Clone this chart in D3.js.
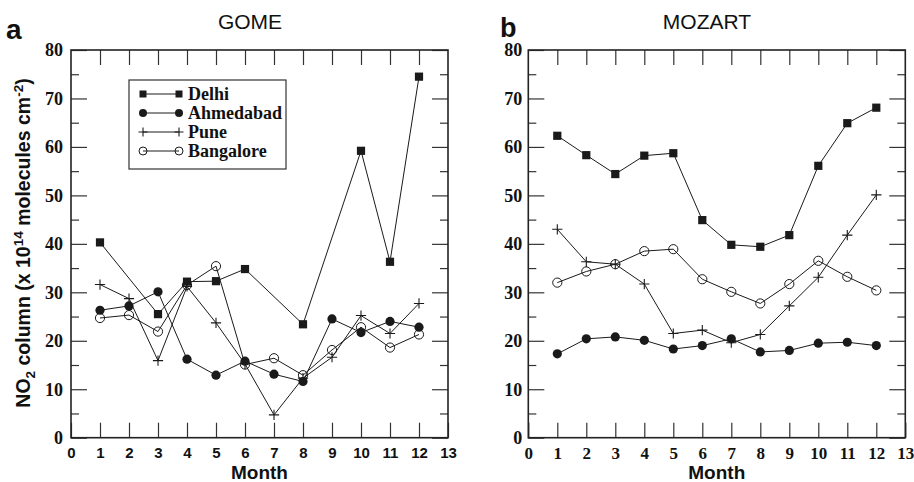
<!DOCTYPE html>
<html>
<head>
<meta charset="utf-8">
<script src="https://cdn.jsdelivr.net/npm/d3@7"></script>
<style>
  body { margin: 0; background: #fff; }
  svg { display: block; }
  .frame { fill: none; stroke: #222; stroke-width: 1.6; }
  .tick line { stroke: #333; stroke-width: 1.2; }
  .series { fill: none; stroke: #1a1a1a; stroke-width: 1; }
</style>
</head>
<body>
<script>

// months 1..12
var months = [1,2,3,4,5,6,7,8,9,10,11,12];
var cities = ["Delhi","Ahmedabad","Pune","Bangalore"];

// GOME values (null = no point that month)
var gomeDelhi     = [40.3, null, 25.5, 32.2, 32.3, 34.8, null, 23.4, null, 59.2, 36.3, 74.5];
var gomeAhmedabad = [26.3, 27.2, 30.1, 16.2, 12.9, 15.8, 13.1, 11.6, 24.5, 21.7, 24.0, 22.8];
var gomePune      = [31.6, 28.7, 15.9, 31.2, 23.7, 15.2, 4.7, 12.3, 16.6, 25.2, 21.5, 27.7];
var gomeBangalore = [24.7, 25.3, 21.9, 31.5, 35.4, 15.1, 16.4, 12.9, 18.1, 22.8, 18.6, 21.3];

// MOZART values
var mozDelhi     = [62.3, 58.3, 54.4, 58.2, 58.7, 44.9, 39.8, 39.4, 41.8, 56.1, 64.9, 68.1];
var mozAhmedabad = [17.3, 20.4, 20.8, 20.1, 18.3, 19.0, 20.4, 17.7, 18.0, 19.5, 19.7, 19.0];
var mozPune      = [43.0, 36.3, 35.8, 31.7, 21.5, 22.2, 19.6, 21.3, 27.2, 33.1, 41.8, 50.1];
var mozBangalore = [32.0, 34.3, 35.8, 38.5, 38.9, 32.7, 30.1, 27.7, 31.7, 36.5, 33.2, 30.4];

var xTicks = d3.range(0, 14);
var yMajor = [0,10,20,30,40,50,60,70,80];
var yMinor = [5,15,25,35,45,55,65,75];

var W = 914, H = 482;
var plotTop = 50, plotBottom = 437.7;
var SANS = "'Liberation Sans', Arial, Helvetica, sans-serif";
var SERIF = "'Liberation Serif', 'Times New Roman', Times, serif";

var svg = d3.select("body").append("svg")
    .attr("width", W)
    .attr("height", H);

var y = d3.scaleLinear().domain([0, 80]).range([plotBottom, plotTop]);

var markerFor = {
  Delhi: "square", Ahmedabad: "dot", Pune: "plus", Bangalore: "ring"
};

function drawMarker(g, kind, cx, cy, s) {
  if (kind === "square") {
    g.append("rect").attr("x", cx - s).attr("y", cy - s)
      .attr("width", 2*s).attr("height", 2*s).attr("fill", "#1a1a1a");
  } else if (kind === "dot") {
    g.append("circle").attr("cx", cx).attr("cy", cy).attr("r", s + 0.5).attr("fill", "#1a1a1a");
  } else if (kind === "ring") {
    g.append("circle").attr("cx", cx).attr("cy", cy).attr("r", s + 0.5)
      .attr("fill", "none").attr("stroke", "#1a1a1a").attr("stroke-width", 1);
  } else {
    var a = s + 1;
    g.append("path").attr("d", "M" + (cx - a) + "," + cy + "H" + (cx + a) + "M" + cx + "," + (cy - a) + "V" + (cy + a))
      .attr("stroke", "#1a1a1a").attr("stroke-width", 1.1);
  }
}

function setFont(sel, family, size) {
  sel.attr("font-family", family)
    .attr("font-size", size)
    .attr("font-weight", "bold")
    .attr("fill", "#111");
}

function panel(x0, x1, seriesList, xFam, xSize, xPad, yPad) {
  var x = d3.scaleLinear().domain([0, 13]).range([x0, x1]);
  var g = svg.append("g");

  // x axis bottom (ticks inward)
  var xb = g.append("g")
    .attr("transform", "translate(0," + plotBottom + ")")
    .call(d3.axisBottom(x).tickValues(xTicks).tickSize(-15).tickPadding(xPad));
  xb.select(".domain").remove();
  setFont(xb, xFam, xSize);
  setFont(xb.selectAll("text"), xFam, xSize);

  // x axis top
  g.append("g")
    .attr("transform", "translate(0," + plotTop + ")")
    .call(d3.axisTop(x).tickValues(months).tickSize(-15).tickFormat(""))
    .call(function(a){ a.select(".domain").remove(); });

  // y axis left major + minor
  var yl = g.append("g")
    .attr("transform", "translate(" + x0 + ",0)")
    .call(d3.axisLeft(y).tickValues(yMajor).tickSize(-16).tickPadding(yPad));
  yl.select(".domain").remove();
  setFont(yl, SERIF, 18);
  setFont(yl.selectAll("text"), SERIF, 18);

  g.append("g")
    .attr("transform", "translate(" + x0 + ",0)")
    .call(d3.axisLeft(y).tickValues(yMinor).tickSize(-8).tickFormat(""))
    .call(function(a){ a.select(".domain").remove(); });
  // y axis right
  g.append("g")
    .attr("transform", "translate(" + x1 + ",0)")
    .call(d3.axisRight(y).tickValues(yMajor).tickSize(-16).tickFormat(""))
    .call(function(a){ a.select(".domain").remove(); });
  g.append("g")
    .attr("transform", "translate(" + x1 + ",0)")
    .call(d3.axisRight(y).tickValues(yMinor).tickSize(-8).tickFormat(""))
    .call(function(a){ a.select(".domain").remove(); });

  g.append("rect").attr("class", "frame")
    .attr("x", x0).attr("y", plotTop)
    .attr("width", x1 - x0).attr("height", plotBottom - plotTop);

  var line = d3.line()
    .x(function(d){ return x(d.m); })
    .y(function(d){ return y(d.v); });

  seriesList.forEach(function(s){
    var pts = months.map(function(m, i){ return {m: m, v: s.values[i]}; })
      .filter(function(d){ return d.v !== null; });
    g.append("path").attr("class", "series").attr("d", line(pts));
    var mg = g.append("g");
    pts.forEach(function(d){
      drawMarker(mg, markerFor[s.name], x(d.m), y(d.v), 4.1);
    });
  });
  return x;
}

var xa = panel(71, 448, [
  {name: "Delhi", values: gomeDelhi},
  {name: "Ahmedabad", values: gomeAhmedabad},
  {name: "Pune", values: gomePune},
  {name: "Bangalore", values: gomeBangalore}
], SANS, 15, 10, 8);

var xbScale = panel(528.3, 905.3, [
  {name: "Delhi", values: mozDelhi},
  {name: "Ahmedabad", values: mozAhmedabad},
  {name: "Pune", values: mozPune},
  {name: "Bangalore", values: mozBangalore}
], SERIF, 17, 9, 6);

// titles and panel letters
svg.append("text").attr("x", 250).attr("y", 29).attr("text-anchor", "middle")
  .attr("font-family", SANS).attr("font-size", 21).attr("fill", "#111").text("GOME");
svg.append("text").attr("x", 707).attr("y", 29).attr("text-anchor", "middle")
  .attr("font-family", SANS).attr("font-size", 21).attr("fill", "#111").text("MOZART");
setFont(svg.append("text").attr("x", 6).attr("y", 39).text("a"), SANS, 28);
setFont(svg.append("text").attr("x", 500).attr("y", 37).text("b"), SANS, 27);

// x labels
[xa, xbScale].forEach(function(x){
  setFont(svg.append("text").attr("x", (x.range()[0] + x.range()[1]) / 2).attr("y", 479)
    .attr("text-anchor", "middle").text("Month"), SANS, 19);
});

// y label
var ylab = svg.append("text")
  .attr("transform", "translate(30,243) rotate(-90)")
  .attr("text-anchor", "middle");
setFont(ylab, SANS, 19.5);
ylab.append("tspan").text("NO");
ylab.append("tspan").attr("dy", 5).attr("font-size", 13.5).text("2");
ylab.append("tspan").attr("dy", -5).text(" column (x 10");
ylab.append("tspan").attr("dy", -7).attr("font-size", 13.5).text("14");
ylab.append("tspan").attr("dy", 7).text(" molecules cm");
ylab.append("tspan").attr("dy", -7).attr("font-size", 13.5).text("-2");
ylab.append("tspan").attr("dy", 7).text(")");

// legend
var lg = svg.append("g");
lg.append("rect").attr("x", 129).attr("y", 80).attr("width", 157).attr("height", 89)
  .attr("fill", "#fff").attr("stroke", "#333").attr("stroke-width", 1.2);
cities.forEach(function(c, i){
  var cy = 94 + i * 19;
  lg.append("line").attr("x1", 143).attr("x2", 179).attr("y1", cy).attr("y2", cy)
    .attr("stroke", "#1a1a1a").attr("stroke-width", 1);
  drawMarker(lg, markerFor[c], 143, cy, 3.5);
  drawMarker(lg, markerFor[c], 179, cy, 3.5);
  setFont(lg.append("text").attr("x", 188).attr("y", cy + 6).text(c), SERIF, 18);
});
</script>
</body>
</html>
